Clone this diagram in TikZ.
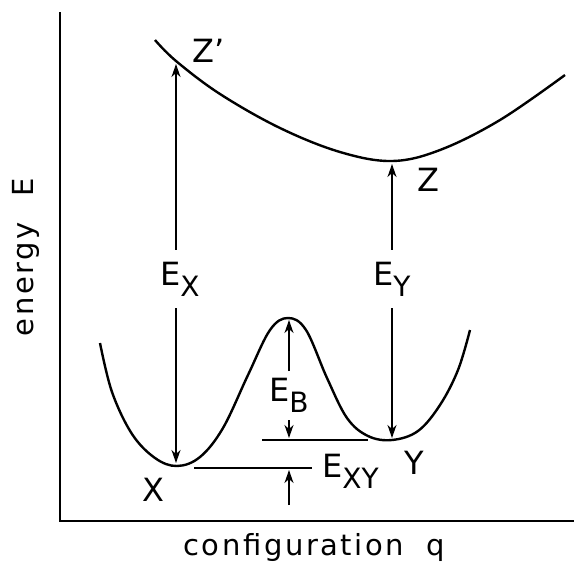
\documentclass[tikz,border=0pt]{standalone}
\usepackage{fontspec}
\setmainfont{DejaVu Sans}
\newfontfamily\axisfont[LetterSpace=9]{DejaVu Sans}
\usetikzlibrary{arrows.meta}
\newcommand{\lowsub}[1]{\raisebox{-11pt}{\fontsize{28}{28}\selectfont #1}}
\begin{document}
\begin{tikzpicture}[x=1pt,y=-1pt,
  curve/.style={line width=2.4pt},
  axis/.style={line width=2.2pt},
  dim/.style={line width=1.3pt},
  hd/.tip={Stealth[length=13pt,width=9pt,inset=4pt]},
  tip/.style={-hd},
  both/.style={hd-hd},
  lbl/.style={font=\fontsize{32}{32}\selectfont, inner sep=0pt},
  gapl/.style={lbl, fill=white, minimum height=58pt, inner xsep=1pt},
  axl/.style={font=\axisfont\fontsize{29}{29}\selectfont, inner sep=0pt}]
\useasboundingbox (0,0) rectangle (574,566);
% axes
\coordinate (ytop) at (60,12);
\coordinate (orig) at (60,521);
\coordinate (xend) at (574,521);
\draw[axis] (ytop) -- (orig) -- (xend);
% upper curve
\draw[curve] plot[smooth, tension=0.6] coordinates {(155,40) (176,61) (220,94) (280,128) (340,152) (392,161) (440,150) (500,120) (565,75)};
% lower curve
\draw[curve] plot[smooth, tension=0.6] coordinates {(100,343) (112,392) (132,434) (155,458) (177,466) (200,457) (223,428) (248,375) (270,330) (288,318) (306,330) (327,378) (347,418) (368,436) (392,440) (418,431) (440,405) (458,370) (470,330)};
% key points
\coordinate (Zp) at (176,64);
\coordinate (X) at (176,463);
\coordinate (Z) at (392,164);
\coordinate (Y) at (392,438);
\coordinate (Bt) at (289,320);
\coordinate (Bb) at (289,371);
\coordinate (L1a) at (262,440);
\coordinate (L1b) at (368,440);
\coordinate (L2a) at (194,468);
\coordinate (L2b) at (312,468);
\coordinate (d1s) at (289,420);
\coordinate (d1e) at (289,438);
\coordinate (d2s) at (289,505);
\coordinate (d2e) at (289,470);
% arrows
\draw[dim,both] (Zp) -- (X);
\draw[dim,both] (Z) -- (Y);
\draw[dim,tip] (Bb) -- (Bt);
\draw[dim] (L1a) -- (L1b);
\draw[dim] (L2a) -- (L2b);
\draw[dim,tip] (d1s) -- (d1e);
\draw[dim,tip] (d2s) -- (d2e);
% labels
\node[lbl] (lZp) at (209,51) {Z'};
\node[lbl] (lZ) at (428,180) {Z};
\node[lbl] (lX) at (153,490) {X};
\node[lbl] (lY) at (414,463) {Y};
\node[gapl, anchor=west] (lEX) at (159,279) {E\lowsub{X}};
\node[gapl, anchor=west] (lEY) at (372,279) {E\lowsub{Y}};
\node[lbl, anchor=west] (lEB) at (269,395) {E\lowsub{B}};
\node[lbl, anchor=west] (lEXY) at (322,471) {E\lowsub{XY}};
\node[axl, rotate=90] (lE) at (26,257) {energy\hspace{26pt}E};
\node[axl] (lq) at (314,547) {configuration\hspace{22pt}q};
\end{tikzpicture}
\end{document}
